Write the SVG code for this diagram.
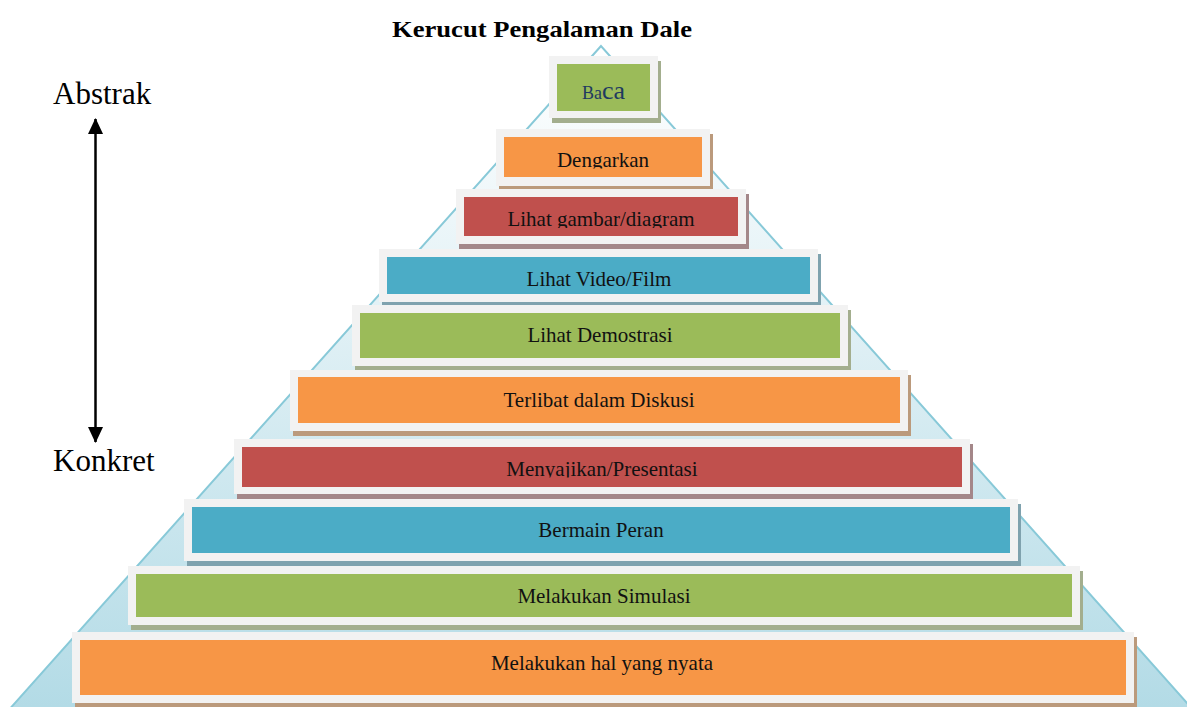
<svg xmlns="http://www.w3.org/2000/svg" width="1187" height="707" viewBox="0 0 1187 707">
<defs>
<linearGradient id="tri" gradientUnits="userSpaceOnUse" x1="0" y1="46" x2="0" y2="707">
<stop offset="0" stop-color="#ffffff"/>
<stop offset="0.35" stop-color="#e6f3f7"/>
<stop offset="1" stop-color="#b3dbe6"/>
</linearGradient>
<marker id="ah" viewBox="0 0 16 15" refX="15" refY="7.5" markerWidth="16" markerHeight="15" markerUnits="userSpaceOnUse" orient="auto-start-reverse">
<path d="M0,0 L16,7.5 L0,15 Z" fill="#000"/>
</marker>
<clipPath id="c2"><rect x="0" y="0" width="1187" height="168.5"/></clipPath>
<clipPath id="c3"><rect x="0" y="0" width="1187" height="228"/></clipPath>
<clipPath id="c7"><rect x="0" y="0" width="1187" height="477.5"/></clipPath>
</defs>
<style>
.frame{fill:#f2f2f2}
.lbl{font-family:"Liberation Serif","Times New Roman",serif;font-size:21px;fill:#111;text-anchor:middle}
.side{font-family:"Liberation Serif","Times New Roman",serif;font-size:31px;fill:#000}
.title{font-family:"Liberation Serif","Times New Roman",serif;font-size:23px;font-weight:bold;fill:#000;text-anchor:middle}
.g{fill:#9bbb59}.o{fill:#f79646}.r{fill:#c0504d}.b{fill:#4bacc6}
.gs{fill:#a3ae8e}.os{fill:#bb9a7c}.rs{fill:#a48789}.bs{fill:#7fa2ae}
</style>
<rect width="1187" height="707" fill="#fff"/>
<text class="title" x="542" y="37" textLength="300" lengthAdjust="spacingAndGlyphs">Kerucut Pengalaman Dale</text>
<polygon points="601,46 7,712 1195,712" fill="url(#tri)" stroke="#88c9d8" stroke-width="2"/>
<g id="connectors">
<line x1="95.5" y1="119" x2="95.5" y2="442" stroke="#000" stroke-width="2.5" marker-start="url(#ah)" marker-end="url(#ah)"/>
</g>
<text class="side" x="53" y="104">Abstrak</text>
<text class="side" x="53" y="471">Konkret</text>
<g id="n1">
<rect class="gs" x="552" y="61" width="109" height="62"/>
<rect class="frame" x="549" y="56" width="109" height="62"/>
<rect class="g" x="557" y="64" width="93" height="47"/>
<text x="603.5" y="99" font-family="Liberation Serif, serif" fill="#1f3a60" text-anchor="middle"><tspan font-size="18">Ba</tspan><tspan font-size="26">ca</tspan></text>
</g>
<g id="n2">
<rect class="os" x="499" y="134" width="214" height="57"/>
<rect class="frame" x="496" y="129" width="214" height="57"/>
<rect class="o" x="504" y="137" width="198" height="40"/>
<text class="lbl" x="603" y="167" clip-path="url(#c2)">Dengarkan</text>
</g>
<g id="n3">
<rect class="rs" x="459" y="194" width="290" height="55"/>
<rect class="frame" x="456" y="189" width="290" height="55"/>
<rect class="r" x="464" y="197" width="274" height="39"/>
<text class="lbl" x="601" y="226" clip-path="url(#c3)">Lihat gambar/diagram</text>
</g>
<g id="n4">
<rect class="bs" x="382" y="254" width="439" height="53"/>
<rect class="frame" x="379" y="249" width="439" height="53"/>
<rect class="b" x="387" y="257" width="423" height="37"/>
<text class="lbl" x="599" y="286">Lihat Video/Film</text>
</g>
<g id="n5">
<rect class="gs" x="355" y="310" width="496" height="61"/>
<rect class="frame" x="352" y="305" width="496" height="61"/>
<rect class="g" x="360" y="313" width="480" height="45"/>
<text class="lbl" x="600" y="342">Lihat Demostrasi</text>
</g>
<g id="n6">
<rect class="os" x="293" y="375" width="618" height="61"/>
<rect class="frame" x="290" y="370" width="618" height="61"/>
<rect class="o" x="298" y="377" width="602" height="46"/>
<text class="lbl" x="599" y="407">Terlibat dalam Diskusi</text>
</g>
<g id="n7">
<rect class="rs" x="237" y="444" width="736" height="55"/>
<rect class="frame" x="234" y="439" width="736" height="55"/>
<rect class="r" x="242" y="447" width="720" height="40"/>
<text class="lbl" x="602" y="476" clip-path="url(#c7)">Menyajikan/Presentasi</text>
</g>
<g id="n8">
<rect class="bs" x="187" y="504" width="834" height="62"/>
<rect class="frame" x="184" y="499" width="834" height="62"/>
<rect class="b" x="192" y="507" width="818" height="46"/>
<text class="lbl" x="601" y="537">Bermain Peran</text>
</g>
<g id="n9">
<rect class="gs" x="131" y="571" width="952" height="59"/>
<rect class="frame" x="128" y="566" width="952" height="59"/>
<rect class="g" x="136" y="574" width="936" height="43"/>
<text class="lbl" x="604" y="603">Melakukan Simulasi</text>
</g>
<g id="n10">
<rect class="os" x="75" y="637" width="1062" height="71"/>
<rect class="frame" x="72" y="632" width="1062" height="71"/>
<rect class="o" x="80" y="640" width="1046" height="55"/>
<text class="lbl" x="602" y="670">Melakukan hal yang nyata</text>
</g>
</svg>
